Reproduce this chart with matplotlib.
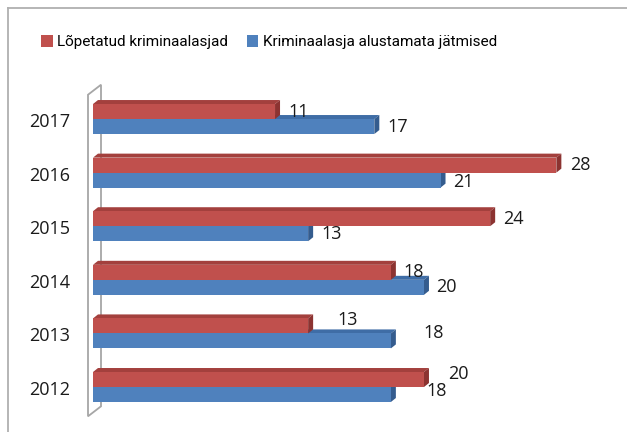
import matplotlib
matplotlib.use("Agg")
import matplotlib.pyplot as plt
from matplotlib.patches import Polygon, Patch
from matplotlib.lines import Line2D

years = ["2012", "2013", "2014", "2015", "2016", "2017"]
series_names = ["Lõpetatud kriminaalasjad", "Kriminaalasja alustamata jätmised"]
lopetatud = [20, 13, 18, 24, 28, 11]
alustamata = [18, 18, 20, 13, 21, 17]

# styling
FONT = "Open Sans"
LEG_FONT = "Roboto"
RED = ("#C0504D", "#A3403D", "#8C3331")     # front, top, side
BLUE = ("#4F81BD", "#3F6DA6", "#345C8E")
W, H, DPI = 6.27, 4.32, 100
# label offsets in pixels (dx from bar end, dy upward) - Excel placement quirks
red_lab_off = [(19, 6), (24, 6), (8, 0), (8, 0), (9, 0), (8, 0)]
blue_lab_off = [(31, 4), (28, 8), (7, 0), (8, 0), (8, -2), (8, 0)]

fig = plt.figure(figsize=(W, H), dpi=DPI)
fig.patch.set_facecolor("white")

XMAX = 31.0
YMIN, YMAX = -0.5, 5.5
ax = fig.add_axes([93 / 627, 0.0421, 513 / 627, 0.7444])
ax.set_xlim(0, XMAX)
ax.set_ylim(YMIN, YMAX)
ax.axis("off")

px_x = (513) / XMAX                 # pixels per x unit
px_y = 0.7444 * 432 / (YMAX - YMIN)  # pixels per y unit
ddx = 5 / px_x
ddy = 4 / px_y
bh = 15 / px_y

# back wall
wx0, wx1 = -5 / px_x, 8 / px_x
wb = YMIN - 2.5 / px_y
wt = YMAX - 2.5 / px_y
wall = Polygon([(wx0, wb), (wx0, wt), (wx1, wt + 10 / px_y), (wx1, wb + 10 / px_y)],
               closed=True, fill=False, edgecolor="#A6A6A6", lw=1.3, clip_on=False, zorder=1)
ax.add_patch(wall)


def bar3d(v, y0, cols, z):
    y1 = y0 + bh
    front = Polygon([(0, y0), (v, y0), (v, y1), (0, y1)], closed=True,
                    facecolor=cols[0], edgecolor="none", zorder=z)
    top = Polygon([(0, y1), (ddx, y1 + ddy), (v + ddx, y1 + ddy), (v, y1)], closed=True,
                  facecolor=cols[1], edgecolor="none", zorder=z)
    side = Polygon([(v, y0), (v, y1), (v + ddx, y1 + ddy), (v + ddx, y0 + ddy)], closed=True,
                   facecolor=cols[2], edgecolor="none", zorder=z)
    for p in (top, side, front):
        p.set_clip_on(False)
        ax.add_patch(p)


for i, (r, b) in enumerate(zip(lopetatud, alustamata)):
    bar3d(b, i - bh, BLUE, 2 + i * 0.01)
    bar3d(r, i, RED, 3 + i * 0.01)
    ax.text(-23 / px_x, i - 3 / px_y, years[i], ha="right", va="center",
            fontsize=13, family=FONT, color="#1a1a1a", clip_on=False)
    dxr, dyr = red_lab_off[i]
    ax.text(r + ddx + dxr / px_x, i + bh / 2 + dyr / px_y, str(r), ha="left", va="center",
            fontsize=13, family=FONT, color="#1a1a1a", zorder=5, clip_on=False)
    dxb, dyb = blue_lab_off[i]
    ax.text(b + ddx + dxb / px_x, i - bh / 2 + dyb / px_y, str(b), ha="left", va="center",
            fontsize=13, family=FONT, color="#1a1a1a", zorder=5, clip_on=False)

handles = [Patch(facecolor=RED[0], edgecolor="none"), Patch(facecolor=BLUE[0], edgecolor="none")]
fig.legend(handles, series_names, loc="center", bbox_to_anchor=(0.429, 0.902), ncol=2,
           frameon=False, handlelength=0.75, handleheight=0.75, handletextpad=0.3,
           columnspacing=1.2, prop={"family": LEG_FONT, "size": 11.0})

# outer border (top and left visible)
fig.add_artist(Line2D([8 / 627, 8 / 627], [0, 1 - 8 / 432], color="#B0B0B0", lw=1.3,
                      transform=fig.transFigure))
fig.add_artist(Line2D([8 / 627, 1], [1 - 8 / 432, 1 - 8 / 432], color="#B0B0B0", lw=1.3,
                      transform=fig.transFigure))

fig.savefig("out.png", dpi=DPI)
